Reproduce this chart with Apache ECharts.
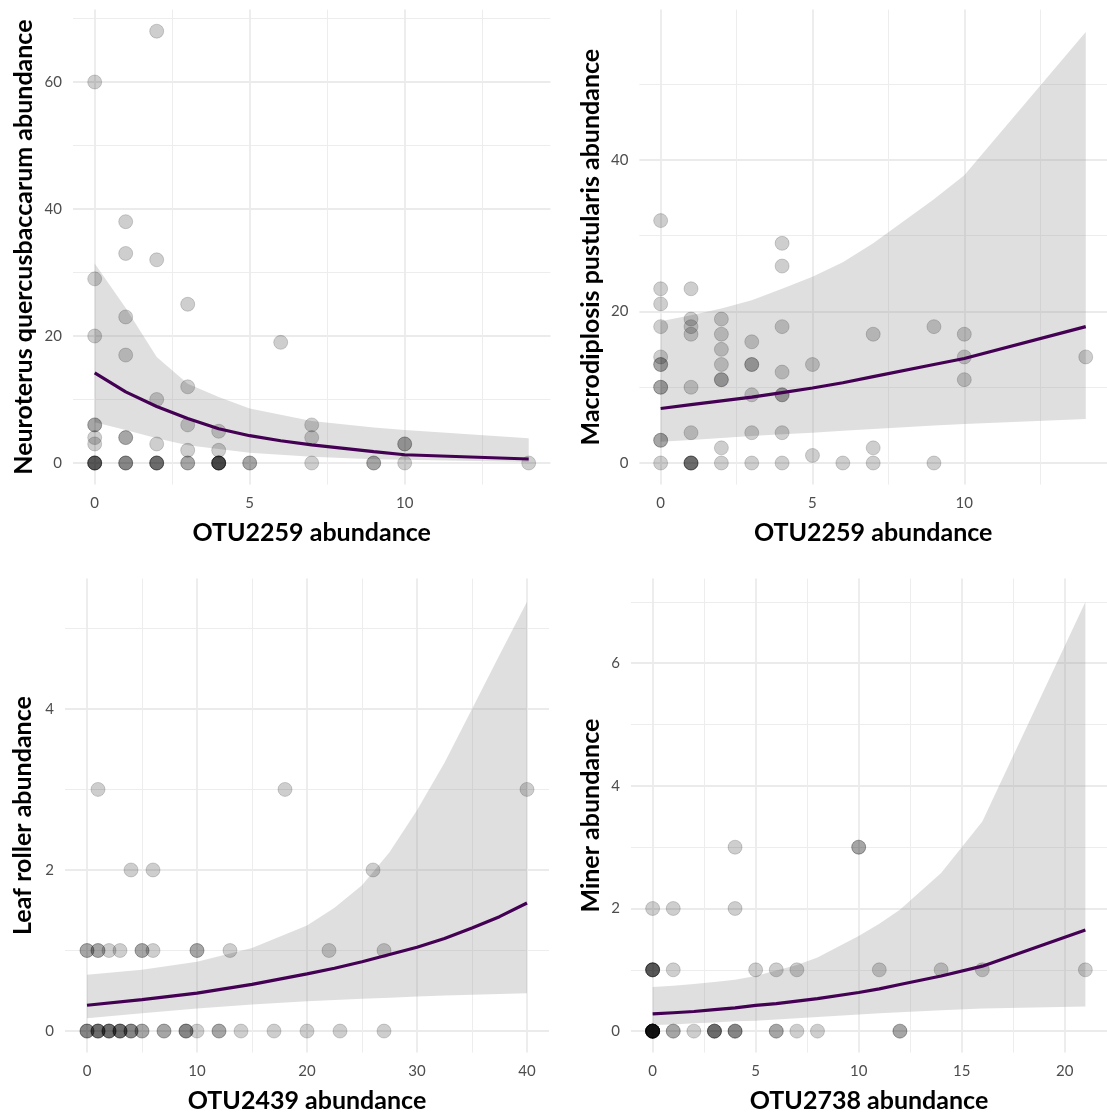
<!DOCTYPE html>
<html>
<head>
<meta charset="utf-8">
<script src="https://cdn.jsdelivr.net/npm/echarts@6/dist/echarts.min.js"></script>
<style>
html,body{margin:0;padding:0;background:#fff;}
#chart{width:1107px;height:1115px;}
</style>
</head>
<body>
<div id="chart"></div>
<script>
// ---------- Panel 1: OTU2259 vs Neuroterus quercusbaccarum ----------
const p1Points = [
  [0,60],[0,29],[0,20],[0,6],[0,6],[0,4],[0,3],[0,0],[0,0],[0,0],[0,0],[0,0],
  [1,38],[1,33],[1,23],[1,17],[1,4],[1,4],[1,0],[1,0],[1,0],
  [2,68],[2,32],[2,10],[2,3],[2,0],[2,0],[2,0],[2,0],
  [3,25],[3,12],[3,6],[3,2],[3,0],[3,0],
  [4,5],[4,2],[4,0],[4,0],[4,0],[4,0],[4,0],[4,0],
  [5,0],[5,0],
  [6,19],
  [7,6],[7,4],[7,0],
  [9,0],[9,0],
  [10,3],[10,3],[10,0],
  [14,0]
];
const p1FitX  = [0,1,2,3,4,5,6,7,9,10,14];
const p1Fit   = [14.2,11.2,8.9,7.0,5.4,4.3,3.5,2.85,1.8,1.3,0.63];
const p1Upper = [31.4,24.4,16.7,12.5,10.4,8.6,7.6,6.6,5.6,5.2,3.9];
const p1Lower = [6.4,5.2,3.9,2.8,2.2,1.6,1.3,1.0,0.6,0.5,0.15];
const p1XMajor = [0,5,10], p1XMinor = [2.5,7.5,12.5];
const p1YMajor = [0,20,40,60], p1YMinor = [10,30,50,70];

// ---------- Panel 2: OTU2259 vs Macrodiplosis pustularis ----------
const p2Points = [
  [0,32],[0,23],[0,21],[0,18],[0,14],[0,13],[0,13],[0,10],[0,10],[0,3],[0,3],[0,0],
  [1,23],[1,19],[1,18],[1,17],[1,10],[1,4],[1,0],[1,0],[1,0],[1,0],
  [2,19],[2,17],[2,15],[2,13],[2,11],[2,11],[2,2],[2,0],
  [3,16],[3,13],[3,13],[3,9],[3,4],[3,0],
  [4,29],[4,26],[4,18],[4,12],[4,9],[4,9],[4,4],[4,0],
  [5,13],[5,1],
  [6,0],
  [7,17],[7,2],[7,0],
  [9,18],[9,0],
  [10,17],[10,14],[10,11],
  [14,14]
];
const p2FitX  = [0,1,2,3,4,5,6,7,9,10,14];
const p2Fit   = [7.2,7.7,8.2,8.7,9.3,9.9,10.6,11.4,13.0,13.8,18.0];
const p2Upper = [18.7,19.5,20.4,21.5,23.0,24.6,26.5,29.0,34.8,38.0,56.9];
const p2Lower = [2.8,3.05,3.3,3.55,3.8,4.0,4.25,4.5,4.95,5.15,5.8];
const p2XMajor = [0,5,10], p2XMinor = [2.5,7.5,12.5];
const p2YMajor = [0,20,40], p2YMinor = [10,30,50];

// ---------- Panel 3: OTU2439 vs Leaf roller ----------
const p3Points = [
  [0,0],[0,0],[0,0],[1,0],[1,0],[1,0],[1,0],[2,0],[2,0],[2,0],[2,0],
  [3,0],[3,0],[3,0],[3,0],[4,0],[4,0],[4,0],[5,0],[5,0],[7,0],[7,0],
  [9,0],[9,0],[9,0],[10,0],[12,0],[12,0],[14,0],[17,0],[20,0],[23,0],[27,0],
  [0,1],[0,1],[1,1],[1,1],[2,1],[3,1],[5,1],[5,1],[6,1],[10,1],[10,1],[13,1],[22,1],[27,1],
  [4,2],[6,2],[26,2],
  [1,3],[18,3],[40,3]
];
const p3FitX  = [0,5,10,15,20,22.5,25,27.5,30,32.5,35,37.5,40];
const p3Fit   = [0.32,0.39,0.47,0.58,0.71,0.78,0.86,0.95,1.04,1.15,1.28,1.42,1.59];
const p3Upper = [0.70,0.76,0.86,1.03,1.31,1.53,1.81,2.22,2.74,3.33,4.0,4.67,5.33];
const p3Lower = [0.16,0.22,0.28,0.33,0.37,0.385,0.40,0.415,0.43,0.44,0.45,0.46,0.47];
const p3XMajor = [0,10,20,30,40], p3XMinor = [5,15,25,35];
const p3YMajor = [0,2,4], p3YMinor = [1,3,5];

// ---------- Panel 4: OTU2738 vs Miner ----------
const p4Points = [
  [0,0],[0,0],[0,0],[0,0],[0,0],[0,0],[0,0],[0,0],[0,0],[0,0],[0,0],[0,0],
  [1,0],[1,0],[2,0],[3,0],[3,0],[3,0],[3,0],[4,0],[4,0],[4,0],
  [6,0],[6,0],[7,0],[8,0],[12,0],[12,0],
  [0,1],[0,1],[0,1],[0,1],[0,1],[1,1],[5,1],[6,1],[7,1],[11,1],[14,1],[16,1],[21,1],
  [0,2],[1,2],[4,2],
  [4,3],[10,3],[10,3]
];
const p4FitX  = [0,1,2,3,4,5,6,7,8,10,11,12,14,16,21];
const p4Fit   = [0.28,0.30,0.32,0.35,0.38,0.42,0.45,0.49,0.53,0.63,0.69,0.76,0.90,1.06,1.65];
const p4Upper = [0.72,0.74,0.77,0.80,0.84,0.90,0.99,1.08,1.20,1.55,1.75,1.98,2.58,3.42,7.0];
const p4Lower = [0.10,0.11,0.13,0.14,0.16,0.17,0.19,0.21,0.23,0.27,0.29,0.31,0.34,0.37,0.40];
const p4XMajor = [0,5,10,15,20], p4XMinor = [2.5,7.5,12.5,17.5];
const p4YMajor = [0,2,4,6], p4YMinor = [1,3,5,7];

// ---------- layout / style ----------
const FONT = 'Lato, "Open Sans", sans-serif';
const panels = [
  {grid:{left:73,top:9.6,width:477.4,height:475}, x:[-0.7,14.7], y:[-3.4,71.4],
   xMaj:p1XMajor,xMin:p1XMinor,yMaj:p1YMajor,yMin:p1YMinor,
   xName:'OTU2259 abundance', yName:'Neuroterus quercusbaccarum abundance', yGap:37,
   pts:p1Points, fx:p1FitX, fit:p1Fit, up:p1Upper, lo:p1Lower},
  {grid:{left:639.4,top:9.6,width:474.3,height:475}, x:[-0.7,14.7], y:[-2.85,59.85],
   xMaj:p2XMajor,xMin:p2XMinor,yMaj:p2YMajor,yMin:p2YMinor,
   xName:'OTU2259 abundance', yName:'Macrodiplosis pustularis abundance', yGap:36,
   pts:p2Points, fx:p2FitX, fit:p2Fit, up:p2Upper, lo:p2Lower},
  {grid:{left:65,top:578.6,width:484,height:474}, x:[-2,42], y:[-0.2675,5.6175],
   xMaj:p3XMajor,xMin:p3XMinor,yMaj:p3YMajor,yMin:p3YMinor,
   xName:'OTU2439 abundance', yName:'Leaf roller abundance', yGap:30,
   pts:p3Points, fx:p3FitX, fit:p3Fit, up:p3Upper, lo:p3Lower},
  {grid:{left:631,top:578.6,width:485.1,height:474}, x:[-1.05,22.05], y:[-0.35,7.38],
   xMaj:p4XMajor,xMin:p4XMinor,yMaj:p4YMajor,yMin:p4YMinor,
   xName:'OTU2738 abundance', yName:'Miner abundance', yGap:28,
   pts:p4Points, fx:p4FitX, fit:p4Fit, up:p4Upper, lo:p4Lower}
];

const grids = [], xAxes = [], yAxes = [], series = [];
const nameStyle = {fontFamily:FONT, fontWeight:'bold', fontSize:25, color:'#000'};
const labelStyle = {fontFamily:FONT, fontSize:15, color:'#4d4d4d'};

panels.forEach((p, k) => {
  grids.push(p.grid);
  xAxes.push({type:'value', gridIndex:k, min:p.x[0], max:p.x[1],
    axisLine:{show:false}, axisTick:{show:false, customValues:p.xMaj},
    axisLabel:Object.assign({customValues:p.xMaj, margin:11}, labelStyle),
    splitLine:{show:true, lineStyle:{color:'#ebebeb', width:1.8}},
    name:p.xName, nameLocation:'middle', nameGap:36, nameTextStyle:nameStyle});
  xAxes.push({type:'value', gridIndex:k, min:p.x[0], max:p.x[1], position:'bottom',
    axisLine:{show:false}, axisTick:{show:false, customValues:p.xMin},
    axisLabel:{show:false, customValues:p.xMin},
    splitLine:{show:true, lineStyle:{color:'#ededed', width:1}}});
  yAxes.push({type:'value', gridIndex:k, min:p.y[0], max:p.y[1],
    axisLine:{show:false}, axisTick:{show:false, customValues:p.yMaj},
    axisLabel:Object.assign({customValues:p.yMaj, margin:11}, labelStyle),
    splitLine:{show:true, lineStyle:{color:'#ebebeb', width:1.8}},
    name:p.yName, nameLocation:'middle', nameGap:p.yGap, nameRotate:90, nameTextStyle:nameStyle});
  yAxes.push({type:'value', gridIndex:k, min:p.y[0], max:p.y[1], position:'left',
    axisLine:{show:false}, axisTick:{show:false, customValues:p.yMin},
    axisLabel:{show:false, customValues:p.yMin},
    splitLine:{show:true, lineStyle:{color:'#ededed', width:1}}});

  const xi = 2*k, yi = 2*k;
  series.push({type:'custom', xAxisIndex:xi, yAxisIndex:yi, z:1, silent:true,
    data:p.fx.map((x,i)=>[x, p.lo[i], p.up[i]]),
    encode:{x:0, y:[1,2]},
    renderItem:function(params, api){
      if (params.dataIndex !== 0) return null;
      const pts = [];
      for (let i=0;i<p.fx.length;i++) pts.push(api.coord([p.fx[i], p.up[i]]));
      for (let i=p.fx.length-1;i>=0;i--) pts.push(api.coord([p.fx[i], p.lo[i]]));
      return {type:'polygon', shape:{points:pts, smooth:0}, style:{fill:'rgba(150,150,150,0.3)'}};
    }});
  series.push({type:'scatter', xAxisIndex:xi, yAxisIndex:yi, z:2, silent:true,
    symbol:'circle', symbolSize:14, data:p.pts,
    itemStyle:{color:'rgba(0,0,0,0.24)', borderColor:'rgba(0,0,0,0.2)', borderWidth:1}});
  series.push({type:'line', xAxisIndex:xi, yAxisIndex:yi, z:3, silent:true,
    showSymbol:false, smooth:false, data:p.fx.map((x,i)=>[x, p.fit[i]]),
    lineStyle:{color:'#440154', width:3.2}});
});

const chart = echarts.init(document.getElementById('chart'), null, {renderer:'canvas'});
chart.setOption({animation:false, backgroundColor:'#fff', grid:grids, xAxis:xAxes, yAxis:yAxes, series:series});
</script>
</body>
</html>
